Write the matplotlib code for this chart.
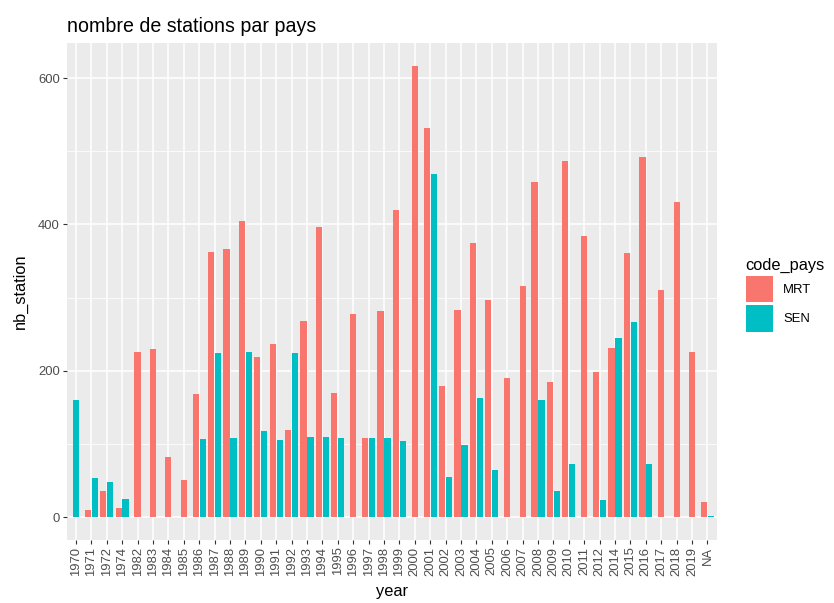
import matplotlib.pyplot as plt
from matplotlib.patches import Patch
import numpy as np

plt.rcParams["font.family"] = ["Liberation Sans", "DejaVu Sans"]

# data (None = no bar for that country)
years = ["1970", "1971", "1972", "1974", "1982", "1983", "1984", "1985", "1986",
         "1987", "1988", "1989", "1990", "1991", "1992", "1993", "1994", "1995",
         "1996", "1997", "1998", "1999", "2000", "2001", "2002", "2003", "2004",
         "2005", "2006", "2007", "2008", "2009", "2010", "2011", "2012", "2014",
         "2015", "2016", "2017", "2018", "2019", "NA"]
mrt = [None, 9, 35, 12, 226, 230, 82, 50, 168,
       362, 366, 404, 219, 236, 119, 268, 397, 169,
       277, 108, 281, 420, 617, 532, 179, 283, 375,
       296, 190, 316, 458, 185, 486, 384, 198, 231,
       361, 492, 310, 430, 226, 20]
sen = [160, 53, 48, 25, None, None, None, None, 106,
       224, 108, 226, 118, 105, 224, 110, 109, 108,
       None, 108, 108, 104, None, 469, 55, 99, 163,
       64, None, None, 160, 35, 72, None, 23, 245,
       266, 72, None, None, None, 1]
countries = ["MRT", "SEN"]
colors = {"MRT": "#F8766D", "SEN": "#00BFC4"}

fig = plt.figure(figsize=(8.34, 6.03), dpi=100)
ax = fig.add_axes([66.7 / 834, 1 - 539.6 / 603, (716.7 - 66.7) / 834, (539.6 - 43) / 603])

# dodge2-like placement: two bars side by side, lone bars centred
slot = 0.45
bw = slot * 0.9
for i, (m, s) in enumerate(zip(mrt, sen)):
    if m is not None and s is not None:
        ax.bar(i - slot / 2, m, width=bw, color=colors["MRT"], zorder=3)
        ax.bar(i + slot / 2, s, width=bw, color=colors["SEN"], zorder=3)
    elif m is not None:
        ax.bar(i, m, width=bw, color=colors["MRT"], zorder=3)
    elif s is not None:
        ax.bar(i, s, width=bw, color=colors["SEN"], zorder=3)

ymax = max(v for v in mrt + sen if v is not None)
ax.set_ylim(-0.05 * ymax, ymax * 1.05)
ax.set_xlim(-0.6, len(years) - 1 + 0.6)

ax.set_facecolor("#EBEBEB")
for sp in ax.spines.values():
    sp.set_visible(False)
ax.set_xticks(np.arange(len(years)))
ax.set_xticklabels(years, rotation=90)
ax.set_yticks([0, 200, 400, 600])
ax.set_yticks([100, 300, 500], minor=True)
ax.grid(True, which="major", color="white", lw=1.1, zorder=0)
ax.grid(True, which="minor", axis="y", color="white", lw=0.55, zorder=0)
ax.tick_params(axis="both", which="major", length=3, width=0.8, color="#333333",
               labelsize=9.4, labelcolor="#4D4D4D", pad=2)
ax.tick_params(axis="y", which="minor", length=0)

ax.set_xlabel("year", fontsize=11.8, labelpad=6)
ax.set_ylabel("nb_station", fontsize=11.8, labelpad=7)
ax.set_title("nombre de stations par pays", fontsize=14.1, loc="left", pad=8)

handles = [Patch(facecolor=colors[c], label=c) for c in countries]
leg = fig.legend(handles=handles, title="code_pays", loc="upper left",
                 bbox_to_anchor=(734 / 834, 1 - 246 / 603), frameon=False,
                 fontsize=9.4, title_fontsize=11.8, handlelength=2.07,
                 handleheight=2.8, labelspacing=0.2, handletextpad=0.8,
                 alignment="left")

fig.savefig("out.png", dpi=100)
